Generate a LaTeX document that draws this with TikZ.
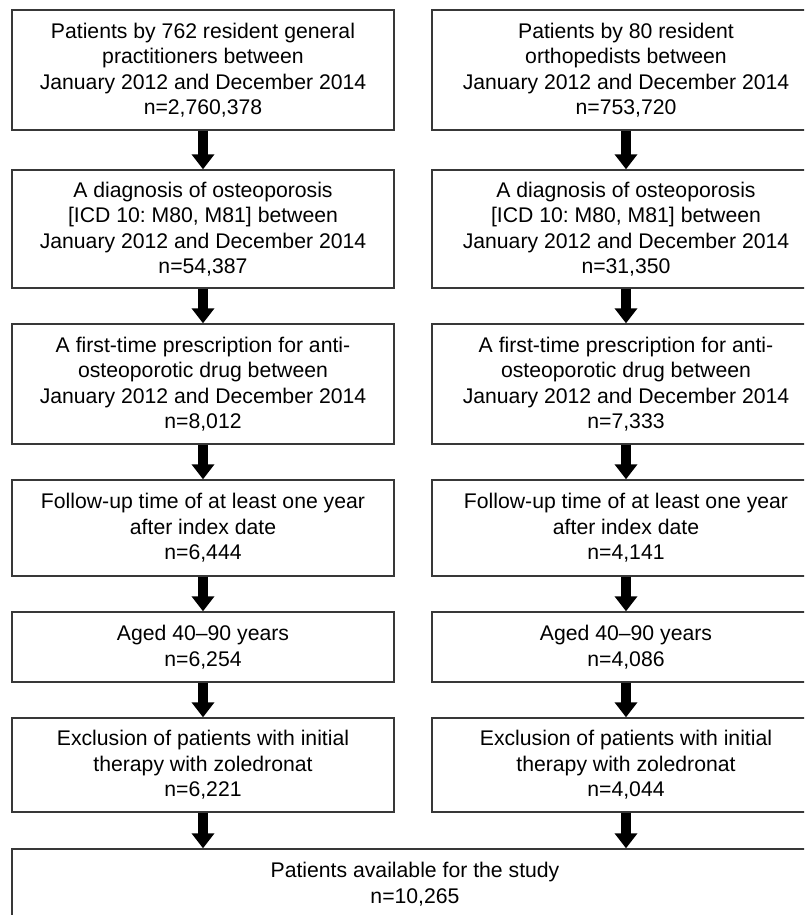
\documentclass[tikz,border=0pt]{standalone}
\usepackage{fontspec}
\setmainfont{Liberation Sans}
\usetikzlibrary{arrows.meta}
\begin{document}
\frenchspacing
\begin{tikzpicture}[x=1pt,y=-1pt,
  box/.style={draw=black!78, line width=1.4pt, rectangle, align=center, inner sep=0pt,
    font=\fontsize{21.2}{25.4}\selectfont\frenchspacing},
  lbox/.style={box, minimum width=382pt},
  rbox/.style={box, minimum width=388pt},
  flow/.style={line width=10pt, -{Triangle[width=22pt,length=15pt]}}]
\path[use as bounding box, clip] (0,0) rectangle (804,915);
% left column
\node[lbox, minimum height=120pt] (l1) at (203,70) {Patients by 762 resident general\\practitioners between\\January 2012 and December 2014\\n=2,760,378};
\node[lbox, minimum height=118pt] (l2) at (203,229) {A diagnosis of osteoporosis\\{}[ICD 10: M80, M81] between\\January 2012 and December 2014\\n=54,387};
\node[lbox, minimum height=120pt] (l3) at (203,384) {A first-time prescription for anti-\\osteoporotic drug between\\January 2012 and December 2014\\n=8,012};
\node[lbox, minimum height=96pt] (l4) at (203,528) {Follow-up time of at least one year\\after index date\\n=6,444};
\node[lbox, minimum height=70pt] (l5) at (203,647) {Aged 40–90 years\\n=6,254};
\node[lbox, minimum height=94pt] (l6) at (203,765) {Exclusion of patients with initial\\therapy with zoledronat\\n=6,221};
% right column
\node[rbox, minimum height=120pt] (r1) at (626,70) {Patients by 80 resident\\orthopedists between\\January 2012 and December 2014\\n=753,720};
\node[rbox, minimum height=118pt] (r2) at (626,229) {A diagnosis of osteoporosis\\{}[ICD 10: M80, M81] between\\January 2012 and December 2014\\n=31,350};
\node[rbox, minimum height=120pt] (r3) at (626,384) {A first-time prescription for anti-\\osteoporotic drug between\\January 2012 and December 2014\\n=7,333};
\node[rbox, minimum height=96pt] (r4) at (626,528) {Follow-up time of at least one year\\after index date\\n=4,141};
\node[rbox, minimum height=70pt] (r5) at (626,647) {Aged 40–90 years\\n=4,086};
\node[rbox, minimum height=94pt] (r6) at (626,765) {Exclusion of patients with initial\\therapy with zoledronat\\n=4,044};
% bottom
\node[box, minimum width=806pt, minimum height=70pt] (b) at (415,884) {Patients available for the study\\n=10,265};
% arrows
\foreach \a/\b in {l1/l2,l2/l3,l3/l4,l4/l5,l5/l6,r1/r2,r2/r3,r3/r4,r4/r5,r5/r6}
  \draw[flow] (\a.south) -- (\b.north);
\draw[flow] (l6.south) -- (l6.south |- b.north);
\draw[flow] (r6.south) -- (r6.south |- b.north);
\end{tikzpicture}
\end{document}
